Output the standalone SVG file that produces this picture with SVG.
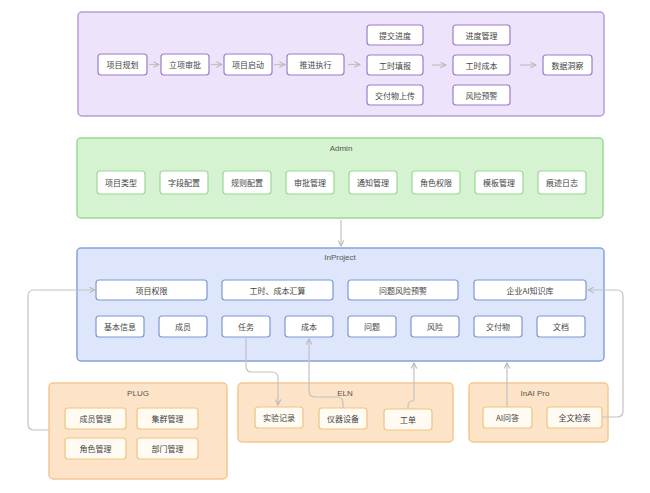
<svg xmlns="http://www.w3.org/2000/svg" width="650" height="493" viewBox="0 0 650 493">
<defs>
<marker id="ah" viewBox="0 0 10 10" refX="9" refY="5" markerWidth="7" markerHeight="7" orient="auto" markerUnits="userSpaceOnUse">
<path d="M1,1 L9,5 L1,9" fill="none" stroke="#b8b8b8" stroke-width="1.5"/>
</marker>
<style>
text{font-family:"Noto Sans CJK SC","Noto Sans",sans-serif;font-size:8px;fill:#444;text-anchor:middle;dominant-baseline:central}
.lbl{font-family:"Liberation Sans","Noto Sans CJK SC",sans-serif;font-size:8px;fill:#555}
.pc{fill:#ede4fb;stroke:#b99ad9;stroke-width:1.5}
.pb{fill:#fff;stroke:#9d7cc8;stroke-width:1.2}
.gc{fill:#d6f3d1;stroke:#98dc92;stroke-width:1.5}
.gb{fill:#fff;stroke:#9cd796;stroke-width:1.2}
.bc{fill:#dde6fb;stroke:#84a2e0;stroke-width:1.5}
.bb{fill:#fff;stroke:#7e98d2;stroke-width:1.2}
.oc{fill:#fde4c8;stroke:#f5c790;stroke-width:1.5}
.ob{fill:#fffaf2;stroke:#efc480;stroke-width:1.2}
.cn{fill:none;stroke:#c2c2c2;stroke-width:1.2;marker-end:url(#ah)}
.cl{fill:none;stroke:#c2c2c2;stroke-width:1.2}
</style>
</defs>
<rect width="650" height="493" fill="#fff"/>

<g id="flow">
<rect class="pc" x="78" y="12" width="526" height="104" rx="4"/>
<g id="n-plan"><rect class="pb" x="98" y="54" width="49" height="21" rx="3"/><text x="122.5" y="64.5">项目规划</text></g>
<g id="n-approve"><rect class="pb" x="161" y="54" width="48" height="21" rx="3"/><text x="185" y="64.5">立项审批</text></g>
<g id="n-start"><rect class="pb" x="224" y="54" width="48" height="21" rx="3"/><text x="248" y="64.5">项目启动</text></g>
<g id="n-exec"><rect class="pb" x="287" y="54" width="57" height="21" rx="3"/><text x="315.5" y="64.5">推进执行</text></g>
<g id="n-submit"><rect class="pb" x="367" y="25" width="56" height="20" rx="3"/><text x="395" y="35">提交进度</text></g>
<g id="n-hours"><rect class="pb" x="367" y="55" width="56" height="20" rx="3"/><text x="395" y="65">工时填报</text></g>
<g id="n-upload"><rect class="pb" x="367" y="85" width="56" height="20" rx="3"/><text x="395" y="95">交付物上传</text></g>
<g id="n-progress"><rect class="pb" x="453" y="25" width="57" height="20" rx="3"/><text x="481.5" y="35">进度管理</text></g>
<g id="n-cost"><rect class="pb" x="453" y="55" width="57" height="20" rx="3"/><text x="481.5" y="65">工时成本</text></g>
<g id="n-risk"><rect class="pb" x="453" y="85" width="57" height="20" rx="3"/><text x="481.5" y="95">风险预警</text></g>
<g id="n-insight"><rect class="pb" x="543" y="55" width="49" height="20" rx="3"/><text x="567.5" y="65">数据洞察</text></g>
</g>

<g id="admin">
<rect class="gc" x="77" y="138" width="526" height="80" rx="4"/>
<text class="lbl" x="341" y="148">Admin</text>
<g id="a1"><rect class="gb" x="97" y="171" width="48" height="23" rx="3"/><text x="121" y="182.5">项目类型</text></g>
<g id="a2"><rect class="gb" x="160" y="171" width="48" height="23" rx="3"/><text x="184" y="182.5">字段配置</text></g>
<g id="a3"><rect class="gb" x="223" y="171" width="48" height="23" rx="3"/><text x="247" y="182.5">规则配置</text></g>
<g id="a4"><rect class="gb" x="286" y="171" width="48" height="23" rx="3"/><text x="310" y="182.5">审批管理</text></g>
<g id="a5"><rect class="gb" x="349" y="171" width="48" height="23" rx="3"/><text x="373" y="182.5">通知管理</text></g>
<g id="a6"><rect class="gb" x="412" y="171" width="48" height="23" rx="3"/><text x="436" y="182.5">角色权限</text></g>
<g id="a7"><rect class="gb" x="475" y="171" width="48" height="23" rx="3"/><text x="499" y="182.5">模板管理</text></g>
<g id="a8"><rect class="gb" x="538" y="171" width="48" height="23" rx="3"/><text x="562" y="182.5">痕迹日志</text></g>
</g>

<g id="inproject">
<rect class="bc" x="77" y="248" width="527" height="113" rx="4"/>
<text class="lbl" x="340" y="257">InProject</text>
<g id="p1"><rect class="bb" x="96" y="280" width="111" height="20" rx="3"/><text x="151.5" y="290">项目权限</text></g>
<g id="p2"><rect class="bb" x="222" y="280" width="111" height="20" rx="3"/><text x="277.5" y="290">工时、成本汇算</text></g>
<g id="p3"><rect class="bb" x="348" y="280" width="110" height="20" rx="3"/><text x="403" y="290">问题风险预警</text></g>
<g id="p4"><rect class="bb" x="474" y="280" width="112" height="20" rx="3"/><text x="530" y="290">企业AI知识库</text></g>
<g id="q1"><rect class="bb" x="96" y="316" width="48" height="21" rx="3"/><text x="120" y="326.5">基本信息</text></g>
<g id="q2"><rect class="bb" x="159" y="316" width="48" height="21" rx="3"/><text x="183" y="326.5">成员</text></g>
<g id="q3"><rect class="bb" x="222" y="316" width="48" height="21" rx="3"/><text x="246" y="326.5">任务</text></g>
<g id="q4"><rect class="bb" x="285" y="316" width="48" height="21" rx="3"/><text x="309" y="326.5">成本</text></g>
<g id="q5"><rect class="bb" x="348" y="316" width="48" height="21" rx="3"/><text x="372" y="326.5">问题</text></g>
<g id="q6"><rect class="bb" x="411" y="316" width="48" height="21" rx="3"/><text x="435" y="326.5">风险</text></g>
<g id="q7"><rect class="bb" x="474" y="316" width="48" height="21" rx="3"/><text x="498" y="326.5">交付物</text></g>
<g id="q8"><rect class="bb" x="537" y="316" width="48" height="21" rx="3"/><text x="561" y="326.5">文档</text></g>
</g>

<g id="plug">
<rect class="oc" x="49" y="383" width="178" height="96" rx="4"/>
<text class="lbl" x="138" y="393">PLUG</text>
<g id="g1"><rect class="ob" x="65" y="408" width="61" height="21" rx="3"/><text x="95.5" y="418.5">成员管理</text></g>
<g id="g2"><rect class="ob" x="137" y="408" width="61" height="21" rx="3"/><text x="167.5" y="418.5">集群管理</text></g>
<g id="g3"><rect class="ob" x="65" y="438" width="61" height="21" rx="3"/><text x="95.5" y="448.5">角色管理</text></g>
<g id="g4"><rect class="ob" x="137" y="438" width="61" height="21" rx="3"/><text x="167.5" y="448.5">部门管理</text></g>
</g>

<g id="eln">
<rect class="oc" x="238" y="383" width="215" height="59" rx="4"/>
<text class="lbl" x="345" y="393">ELN</text>
<g id="e1"><rect class="ob" x="255" y="407" width="48" height="21" rx="3"/><text x="279" y="417.5">实验记录</text></g>
<g id="e2"><rect class="ob" x="319" y="408" width="48" height="21" rx="3"/><text x="343" y="418.5">仪器设备</text></g>
<g id="e3"><rect class="ob" x="384" y="409" width="48" height="21" rx="3"/><text x="408" y="419.5">工单</text></g>
</g>

<g id="inai">
<rect class="oc" x="469" y="383" width="139" height="59" rx="4"/>
<text class="lbl" x="535" y="393">InAI Pro</text>
<g id="i1"><rect class="ob" x="483" y="407" width="49" height="21" rx="3"/><text x="507.5" y="417.5">AI问答</text></g>
<g id="i2"><rect class="ob" x="547" y="407" width="55" height="21" rx="3"/><text x="574.5" y="417.5">全文检索</text></g>
</g>

<g id="connectors">
<path class="cn" d="M149,64.5 H159"/>
<path class="cn" d="M211,64.5 H222"/>
<path class="cn" d="M274,64.5 H285"/>
<path class="cn" d="M348,64.5 H360"/>
<path class="cn" d="M432,65 H446"/>
<path class="cn" d="M520,65 H536"/>
<path class="cn" d="M341,220 V246"/>
<path class="cn" d="M49,430 H34 Q28,430 28,424 V296 Q28,290 34,290 H95"/>
<path class="cn" d="M602,417 H617 Q623,417 623,411 V296 Q623,290 617,290 H588"/>
<path class="cn" d="M246,337 V366 Q246,372 252,372 H272 Q278,372 278,378 V405"/>
<path class="cn" d="M343,408 V403 Q343,397 337,397 H315 Q309,397 309,391 V339"/>
<path class="cn" d="M408,409 V406 Q408,401 413,401 Q414,401 414,396 V363"/>
<path class="cn" d="M507,407 V363"/>
</g>
</svg>
